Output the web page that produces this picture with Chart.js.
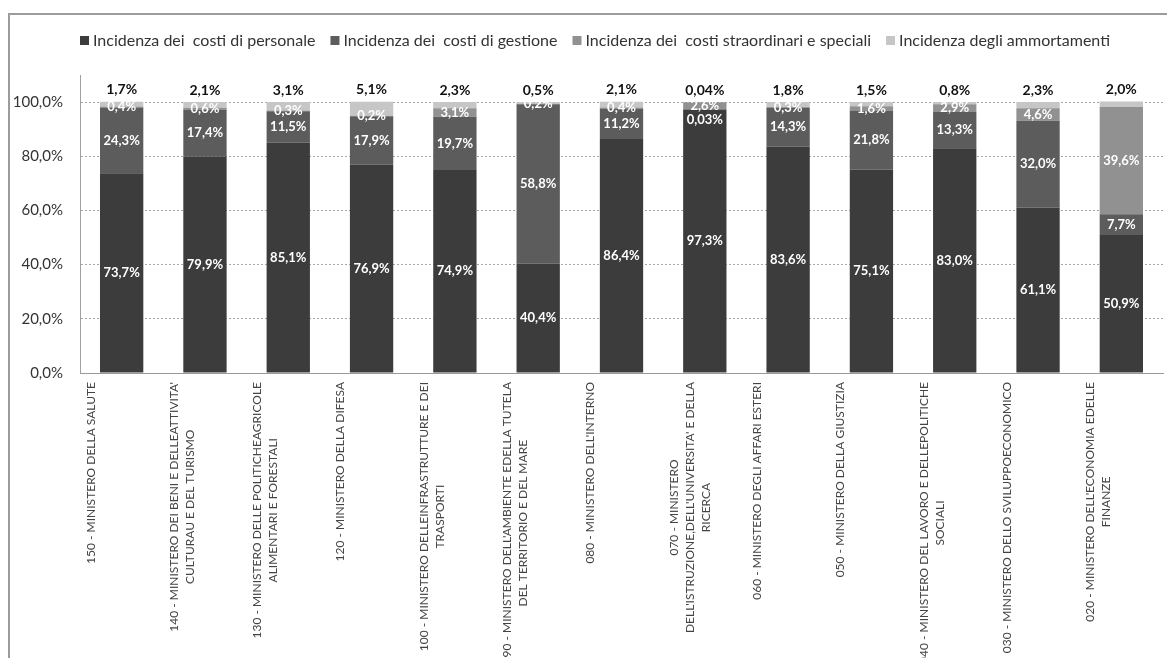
<!DOCTYPE html>
<html lang="it">
<head>
<meta charset="utf-8">
<title>Incidenza dei costi per ministero</title>
<script src="https://cdn.jsdelivr.net/npm/chart.js@4.4.1/dist/chart.umd.min.js"></script>
<style>
  html, body { margin: 0; padding: 0; background: #fff; }
  .wrap { position: relative; width: 1167px; height: 658px; overflow: hidden; }
  .frame { position: absolute; left: 8px; top: 13px; right: -4px; bottom: -4px;
    border-left: 2px solid #9c9c9c; border-top: 2px solid #9c9c9c; }
  canvas { position: absolute; left: 0; top: 0; }
</style>
</head>
<body>
<div class="wrap">
  <div class="frame"></div>
  <canvas id="myChart" width="1167" height="658"></canvas>
</div>
<script>
// categorie (etichette asse x, a capo come nell'originale)
const ministeri = [
  '150 - MINISTERO DELLA SALUTE',
  ["140 - MINISTERO DEI BENI E DELLEATTIVITA'", 'CULTURAU E DEL TURISMO'],
  ['130 - MINISTERO DELLE POLITICHEAGRICOLE', 'ALIMENTARI E FORESTALI'],
  '120 - MINISTERO DELLA DIFESA',
  ['100 - MINISTERO DELLEINFRASTRUTTURE E DEI', 'TRASPORTI'],
  ["090 - MINISTERO DELL'AMBIENTE EDELLA TUTELA", 'DEL TERRITORIO E DEL MARE'],
  "080 - MINISTERO DELL'INTERNO",
  ['070 - MINISTERO', "DELL'ISTRUZIONE,DELL'UNIVERSITA' E DELLA", 'RICERCA'],
  '060 - MINISTERO DEGLI AFFARI ESTERI',
  '050 - MINISTERO DELLA GIUSTIZIA',
  ['040 - MINISTERO DEL LAVORO E DELLEPOLITICHE', 'SOCIALI'],
  '030 - MINISTERO DELLO SVILUPPOECONOMICO',
  ["020 - MINISTERO DELL'ECONOMIA EDELLE", 'FINANZE'],
];
const serie = [
  'Incidenza dei  costi di personale',
  'Incidenza dei  costi di gestione',
  'Incidenza dei  costi straordinari e speciali',
  'Incidenza degli ammortamenti',
];
const personale = [73.7, 79.9, 85.1, 76.9, 74.9, 40.4, 86.4, 97.3, 83.6, 75.1, 83.0, 61.1, 50.9];
const gestione = [24.3, 17.4, 11.5, 17.9, 19.7, 58.8, 11.2, 0.03, 14.3, 21.8, 13.3, 32.0, 7.7];
const straordinari = [0.4, 0.6, 0.3, 0.2, 3.1, 0.2, 0.4, 2.6, 0.3, 1.6, 2.9, 4.6, 39.6];
const ammortamenti = [1.7, 2.1, 3.1, 5.1, 2.3, 0.5, 2.1, 0.04, 1.8, 1.5, 0.8, 2.3, 2.0];
const yTicks = [0, 20, 40, 60, 80, 100];

const colori = ['#3c3c3c', '#5c5c5c', '#919191', '#c6c6c6'];
const FONT = 'Lato, "Open Sans", sans-serif';

const fmt = (v, d) => `${v.toFixed(d ?? (v < 0.1 ? 2 : 1)).replace('.', ',')}%`;

// legenda disegnata in alto
const legendPlugin = {
  id: 'legendaTop',
  afterDraw(chart) {
    const { ctx } = chart;
    ctx.save();
    ctx.font = `16px ${FONT}`;
    ctx.textBaseline = 'middle';
    const items = chart.data.datasets.map((ds) => ({ text: ds.label, color: ds.backgroundColor, w: ctx.measureText(ds.label).width }));
    const total = items.reduce((s, it) => s + 13 + it.w, 0) + 15 * (items.length - 1);
    let x = 595 - total / 2;
    items.forEach((it) => {
      ctx.fillStyle = it.color;
      ctx.fillRect(x, 36, 9, 9);
      ctx.fillStyle = '#333';
      ctx.fillText(it.text, x + 13, 41);
      x += 13 + it.w + 15;
    });
    ctx.restore();
  },
};

// percentuali sulle barre
const valuePlugin = {
  id: 'valoriBarre',
  afterDatasetsDraw(chart) {
    const { ctx } = chart;
    ctx.save();
    ctx.textAlign = 'center';
    ctx.textBaseline = 'middle';
    ministeri.forEach((_, i) => {
      let last = -Infinity;
      ctx.font = `bold 13px ${FONT}`;
      ctx.fillStyle = '#fff';
      for (let d = 2; d >= 0; d -= 1) {
        const bar = chart.getDatasetMeta(d).data[i];
        let y = (bar.y + bar.base) / 2;
        if (y < last + 14) y = last + 14;
        last = y;
        ctx.fillText(fmt(chart.data.datasets[d].data[i]), bar.x, y);
      }
      const top = chart.getDatasetMeta(3).data[i];
      ctx.font = `bold 14px ${FONT}`;
      ctx.fillStyle = '#111';
      ctx.fillText(fmt(chart.data.datasets[3].data[i]), top.x, top.y - 12);
    });
    ctx.restore();
  },
};

// etichette asse x ruotate, righe centrate tra loro
const xLabelPlugin = {
  id: 'etichetteX',
  afterDraw(chart) {
    const { ctx } = chart;
    const xs = chart.scales.x;
    ctx.save();
    ctx.font = `12px ${FONT}`;
    ctx.fillStyle = '#444';
    ctx.textAlign = 'center';
    ctx.textBaseline = 'middle';
    ministeri.forEach((lab, i) => {
      const lines = Array.isArray(lab) ? lab : [lab];
      const maxW = Math.max(...lines.map((l) => ctx.measureText(l).width));
      const x0 = xs.getPixelForTick(i) - 31;
      lines.forEach((l, j) => {
        ctx.save();
        ctx.translate(x0 + j * 16, xs.top + 9 + maxW / 2);
        ctx.rotate(-Math.PI / 2);
        ctx.fillText(l, 0, 0);
        ctx.restore();
      });
    });
    ctx.restore();
  },
};

const datasets = [personale, gestione, straordinari, ammortamenti].map((data, k) => ({
  label: serie[k],
  data,
  backgroundColor: colori[k],
  borderWidth: 0,
  barPercentage: 0.52,
  categoryPercentage: 1,
}));

const config = {
  type: 'bar',
  data: { labels: ministeri, datasets },
  options: {
    responsive: false,
    animation: false,
    layout: { padding: { top: 75, right: 4, bottom: 0, left: 0 } },
    plugins: { legend: { display: false }, tooltip: { enabled: false } },
    scales: {
      x: {
        stacked: true,
        grid: { display: false },
        border: { color: '#9a9a9a', width: 1 },
        ticks: { display: false },
        afterFit: (s) => { s.height = 285; },
      },
      y: {
        stacked: true,
        min: 0,
        max: 110,
        afterBuildTicks: (s) => { s.ticks = yTicks.map((v) => ({ value: v })); },
        grid: { color: '#a6a6a6', drawTicks: false },
        border: { color: '#a0a0a0', width: 1, dash: [2, 2] },
        ticks: {
          padding: 17,
          color: '#333',
          font: { family: FONT, size: 15 },
          callback: (v) => fmt(v, 1),
        },
        afterFit: (s) => { s.width = 80; },
      },
    },
  },
  plugins: [legendPlugin, valuePlugin, xLabelPlugin],
};

const myChart = new Chart(document.getElementById('myChart'), config);
</script>
</body>
</html>
